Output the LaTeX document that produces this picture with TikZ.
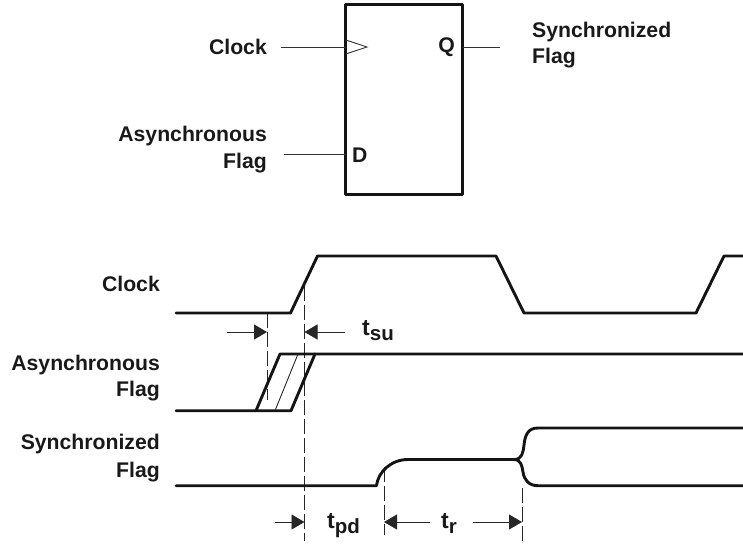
\documentclass[tikz,border=0pt]{standalone}
\usepackage{fontspec}
\setmainfont{Liberation Sans}
\usetikzlibrary{arrows.meta}
\newcommand{\subtxt}[2]{#1\raisebox{-5.5pt}{\fontsize{20.5}{20}\selectfont #2}}
\tikzset{
  x=1pt,y=-1pt,
  lab/.style={font=\fontsize{21.2}{24}\selectfont\bfseries,inner sep=0pt,text=black!90},
  labr/.style={lab,anchor=east},
  labl/.style={lab,anchor=west},
  timing/.style={lab,font=\fontsize{23}{26}\selectfont\bfseries},
  thinl/.style={line width=0.9pt,black!80},
  wave/.style={line width=2.9pt,line join=round,line cap=round,black!92},
  guide/.style={line width=0.9pt,black!85,dash pattern=on 15pt off 4pt},
  dim/.style={line width=0.9pt,black!85,-{Triangle[length=13pt,width=15pt]}},
  ffbox/.style={draw,line width=3pt,line join=round,black!92,minimum width=117pt,minimum height=189.5pt,inner sep=0pt,outer sep=0pt,anchor=north west}
}
\begin{document}
\begin{tikzpicture}
\useasboundingbox (0,0) rectangle (743,546);
% flip-flop
\node[ffbox] (ff) at (345.8,4.6) {};
\node[labr] (ckl) at (267,47) {Clock};
\node[labr] (q) at (455,47) {Q};
\node[labl] (d) at (352,155) {D};
\node[labl] (sf1) at (532,32) {Synchronized};
\node[labl] (sf2) at (532,58) {Flag};
\node[labr] (af1) at (267,136) {Asynchronous};
\node[labr] (af2) at (267,163) {Flag};
\coordinate (ckin) at (281,47);
\coordinate (dCin) at (284,154);
\coordinate (qout) at (500,47);
\draw[thinl] (ckin) -- (ff.west |- ckin);
\draw[thinl] (dCin) -- (ff.west |- dCin);
\draw[thinl] (ff.east |- qout) -- (qout);
\draw[thinl,line join=miter] (ff.west |- 0,40) -- (367,47) -- (ff.west |- 0,54);
% timing labels
\node[labr] (lc) at (160,284) {Clock};
\node[labr] (la1) at (160,365) {Asynchronous};
\node[labr] (la2) at (160,391) {Flag};
\node[labr] (ls1) at (160,444) {Synchronized};
\node[labr] (ls2) at (160,472) {Flag};
% guides
\coordinate (g1a) at (267,313); \coordinate (g1b) at (267,400);
\coordinate (g2a) at (304.5,286); \coordinate (g2b) at (304.5,541);
\coordinate (g3a) at (384,467); \coordinate (g3b) at (384,535);
\coordinate (g4a) at (522,488); \coordinate (g4b) at (522,543);
\draw[guide] (g1a) -- (g1b);
\draw[guide] (g2a) -- (g2b);
\draw[guide] (g3a) -- (g3b);
\draw[guide] (g4a) -- (g4b);
% waveforms
\draw[wave] (176,313) -- (290.5,313) -- (317.5,256) -- (496,256) -- (524,313) -- (696,313) -- (724,256) -- (743,256);
\draw[wave] (176,410.7) -- (291,410.7) -- (315,354) -- (743,354);
\draw[wave] (256,410.7) -- (280,354) -- (315,354);
\draw[line width=0.9pt,black!85] (275,410.7) -- (298,354);
\draw[wave] (176,485.7) -- (376.5,485.7) .. controls (378,472) and (391,459.5) .. (408,459.5) -- (514,459.5)
  .. controls (522,459.5) and (523,453) .. (524,445) .. controls (525,435) and (528,428) .. (538,428) -- (743,428);
\draw[wave] (514,459.5) .. controls (521,459.5) and (522,466) .. (523,472) .. controls (524,480) and (529,485.7) .. (538,485.7) -- (743,485.7);
% dimension arrows
\coordinate (a1) at (227,332); \coordinate (a2) at (345,332);
\coordinate (a3) at (275,522); \coordinate (a4) at (430,522); \coordinate (a5) at (473,522);
\draw[dim] (a1) -- (a1 -| g1a);
\draw[dim] (a2) -- (a2 -| g2a);
\draw[dim] (a3) -- (a3 -| g2a);
\draw[dim] (a4) -- (a4 -| g3a);
\draw[dim] (a5) -- (a5 -| g4a);
% timing texts
\node[timing,anchor=base west] (tsu) at (362,335) {\subtxt{t}{su}};
\node[timing,anchor=base west] (tpd) at (327,528) {\subtxt{t}{pd}};
\node[timing,anchor=base west] (tr) at (441,528) {\subtxt{t}{r}};
\end{tikzpicture}
\end{document}
